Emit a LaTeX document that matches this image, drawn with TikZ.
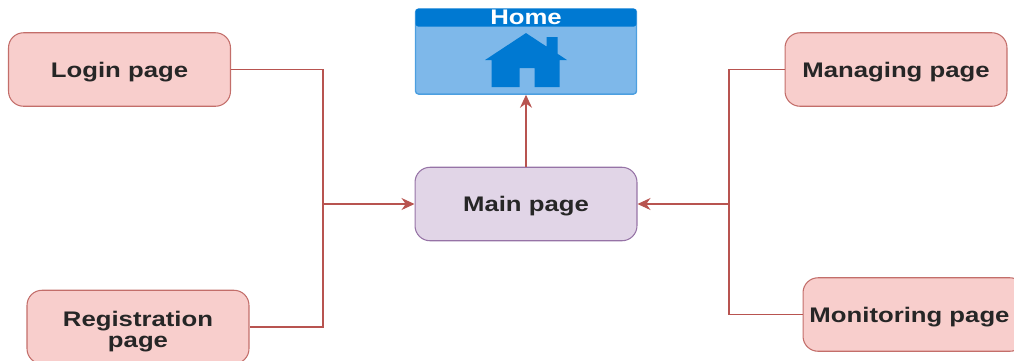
\documentclass[tikz,border=0pt]{standalone}
\usepackage{fontspec}
\setmainfont{Liberation Sans}[FakeStretch=1.22]
\usepackage{tikz}
\usetikzlibrary{arrows.meta, calc, positioning}
\definecolor{pagefill}{HTML}{F8CECC}
\definecolor{pageline}{HTML}{B85450}
\definecolor{mainfill}{HTML}{E1D5E7}
\definecolor{mainline}{HTML}{9673A6}
\definecolor{homefill}{HTML}{7EB8EA}
\definecolor{homeline}{HTML}{4C9FE0}
\definecolor{homedark}{HTML}{0079D2}
\tikzstyle{label} = [align=center, text depth=0pt, font=\bfseries\fontsize{12}{12}\selectfont, text=black!85]
\tikzstyle{block} = [label, rectangle, line width=0.6pt, rounded corners=3mm, minimum width=4.44cm, minimum height=1.47cm]
\tikzstyle{page} = [block, draw=pageline!85, fill=pagefill]
\tikzstyle{arrow} = [line width=0.65pt, draw=pageline, -{Stealth[length=2.6mm, width=2.4mm]}]
\tikzstyle{line} = [line width=0.65pt, draw=pageline]

\begin{document}
\begin{tikzpicture}[x=0.02cm, y=-0.02cm]
		\useasboundingbox (0,0) rectangle (1014,360);
		\clip (0,0) rectangle (1014,360);
		\node (Main) [block, draw=mainline, fill=mainfill] at (526,204) {Main page};
		\node (Home) [rectangle, rounded corners=0.6mm, minimum width=4.42cm, minimum height=1.7cm, thick, draw=homeline, fill=homefill, above = 1.44cm of Main] {};
		\node (Login) [page] at (119.5,69.5) {Login page};
		\node (Register) [page] at (138,327) {};
		\node (RegisterText) [label] at (138,329) {Registration\\page};
		\node (Managing) [page] at (896,69.5) {Managing page};
		\node (Monitoring) [page] at (914,314.5) {};
		\node (MonitoringText) [label] at (909.5,314.5) {Monitoring page};
		
		% home header and icon
		\node (HomeTitle) [label, rectangle, rounded corners=0.6mm, minimum width=4.42cm, minimum height=0.36cm, inner sep=0pt, fill=homedark, text=white, below = 0pt of Home.north] {Home};
		\begin{scope}[shift={(Home.center)}]
		\fill[homedark] (0,-18.5) -- (20.5,-5) -- (20.5,-14.5) -- (31.5,-14.5) -- (31.5,2.2) -- (41,8.5) -- (33.5,8.5) -- (33.5,35.5) -- (8.5,35.5) -- (8.5,16.5) -- (-6.5,16.5) -- (-6.5,35.5) -- (-34.5,35.5) -- (-34.5,8.5) -- (-41,8.5) -- cycle;
		\end{scope}
		
		\coordinate (JoinLeft) at (323,204);
		\coordinate (JoinRight) at (729,204);
		
		\draw [line] (Login) -| (JoinLeft) |- (Register);
		\draw [arrow] (JoinLeft) -- (Main);
		\draw [line] (Managing) -| (JoinRight) |- (Monitoring);
		\draw [arrow] (JoinRight) -- (Main);
		\draw [arrow] (Main) -- (Home);
\end{tikzpicture}
\end{document}
